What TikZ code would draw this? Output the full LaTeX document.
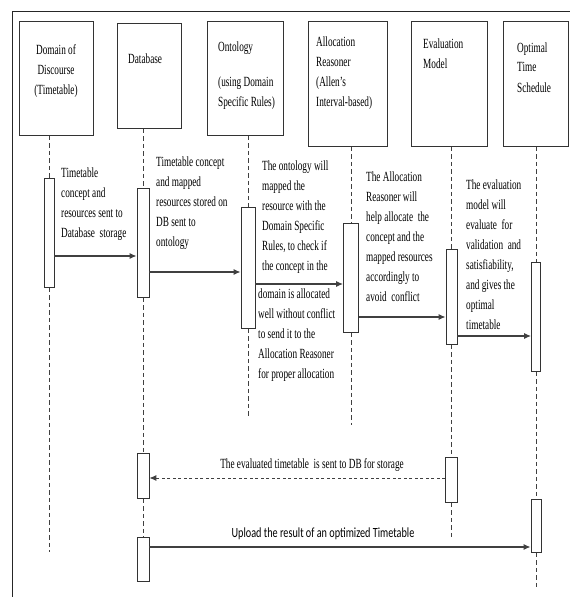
\documentclass[tikz,border=0pt]{standalone}
\usepackage{fontspec}
\setmainfont{Liberation Serif}[FakeStretch=0.66]
\newfontfamily\calfont{Carlito}[FakeStretch=0.73]
\usetikzlibrary{arrows.meta}

\begin{document}
\begin{tikzpicture}[
    x=1pt,
    y=-1pt,
    font=\fontsize{14}{20}\selectfont,
    actor/.style={draw=black!80, line width=0.8pt, rectangle, inner sep=0, anchor=north west},
    activ/.style={draw=black!80, line width=0.8pt, fill=white, rectangle, inner sep=0, anchor=north},
    txt/.style={align=left, anchor=base west, inner sep=0},
    life/.style={draw=black!75, line width=0.7pt, dash pattern=on 4.5pt off 3pt},
    msg/.style={draw=black!75, line width=1.2pt, -{Latex[length=7pt,width=6pt]}}]
   \useasboundingbox (0,0) rectangle (570,597);
   \draw[black!85, line width=0.9pt] (12,597) -- (12,11) -- (570,11);

   % lifeline heads
   \path
     node(dom)   at ( 19,21) [actor, minimum width=74pt, minimum height=114pt] {}
     node(db)    at (117,23) [actor, minimum width=64pt, minimum height=105pt] {}
     node(ont)   at (207,21) [actor, minimum width=76pt, minimum height=114pt] {}
     node(alloc) at (308,21) [actor, minimum width=79pt, minimum height=125pt] {}
     node(eval)  at (411,21) [actor, minimum width=76pt, minimum height=125pt] {}
     node(opt)   at (503,21) [actor, minimum width=65pt, minimum height=125pt] {};

   % (a text node sits on the baseline of its last line)
   \node[txt, align=center, anchor=base] (domtxt) at (56,94) {Domain of\\Discourse\\(Timetable)};
   \node[txt] (dbtxt) at (128,63) {Database};
   \node[txt] (onttxt) at (218,106) {Ontology\\[15pt](using Domain\\Specific Rules)};
   \node[txt] (alloctxt) at (316,106) {Allocation\\Reasoner\\(Allen's\\Interval-based)};
   \node[txt] (evaltxt) at (423,68) {Evaluation\\Model};
   \node[txt] (opttxt) at (517,92) {Optimal\\Time\\Schedule};

   % activation bars
   \path
     node(dom1) at (49,178)    [activ, minimum width=10pt, minimum height=109pt] {}
     node(db1)  at (143,188)   [activ, minimum width=12pt, minimum height=109pt] {}
     node(db2)  at (143,453)   [activ, minimum width=12pt, minimum height=45pt] {}
     node(db3)  at (143,537)   [activ, minimum width=12pt, minimum height=44pt] {}
     node(ont1) at (248,207)   [activ, minimum width=14pt, minimum height=121pt] {}
     node(all1) at (351,223)   [activ, minimum width=15pt, minimum height=109pt] {}
     node(ev1)  at (451.5,249) [activ, minimum width=11pt, minimum height=95pt] {}
     node(ev2)  at (451.5,457) [activ, minimum width=12pt, minimum height=45pt] {}
     node(op1)  at (536,262)   [activ, minimum width=9pt, minimum height=109pt] {}
     node(op2)  at (536,499)   [activ, minimum width=10pt, minimum height=53pt] {};

   \coordinate (domend) at (49,552);
   \coordinate (ontend) at (248,418);
   \coordinate (allend) at (351,425);
   \coordinate (evend)  at (451.5,537);
   \coordinate (opend)  at (536,588);

   \begin{scope}[life]
     \draw (dom1.north |- dom.south) -- (dom1.north);
     \draw (dom1.south) -- (domend);
     \draw (db1.north |- db.south) -- (db1.north);
     \draw (db1.south) -- (db2.north);
     \draw (db2.south) -- (db3.north);
     \draw (ont1.north |- ont.south) -- (ont1.north);
     \draw (ont1.south) -- (ontend);
     \draw (all1.north |- alloc.south) -- (all1.north);
     \draw (all1.south) -- (allend);
     \draw (ev1.north |- eval.south) -- (ev1.north);
     \draw (ev1.south) -- (ev2.north);
     \draw (ev2.south) -- (evend);
     \draw (op1.north |- opt.south) -- (op1.north);
     \draw (op1.south) -- (op2.north);
     \draw (op2.south) -- (opend);
   \end{scope}

   % messages
   \coordinate (m1) at (0,256);
   \coordinate (m2) at (0,272);
   \coordinate (m3) at (0,284);
   \coordinate (m4) at (0,317);
   \coordinate (m5) at (0,336);
   \coordinate (m6) at (0,478);
   \coordinate (m7) at (0,547);

   \draw[msg] (dom1.east |- m1) -- (db1.west |- m1);
   \draw[msg] (db1.east |- m2) -- (ont1.west |- m2);
   \draw[msg] (ont1.east |- m3) -- (all1.west |- m3);
   \draw[msg] (all1.east |- m4) -- (ev1.west |- m4);
   \draw[msg] (ev1.east |- m5) -- (op1.west |- m5);
   \draw[msg, line width=0.9pt, dash pattern=on 3pt off 2.5pt] (ev2.west |- m6) -- (db2.east |- m6);
   \draw[msg] (db3.east |- m7) -- (op2.west |- m7);

   \node[txt] (t1) at (61,237) {Timetable\\concept and\\resources sent to\\Database~ storage};
   \node[txt] (t2) at (156,246) {Timetable concept\\and mapped\\resources stored on\\DB sent to\\ontology};
   \node[txt] (t3a) at (262,270) {The ontology will\\mapped the\\resource with the\\Domain Specific\\Rules, to check if\\the concept in the};
   \node[txt] (t3b) at (258,378) {domain is allocated\\well without conflict\\to send it to the\\Allocation Reasoner\\for proper allocation};
   \node[txt] (t4) at (366,301) {The Allocation\\Reasoner will\\help allocate~ the\\concept and the\\mapped resources\\accordingly to\\avoid~ conflict};
   \node[txt] (t5) at (466,329) {The evaluation\\model will\\evaluate~ for\\validation~ and\\satisfiability,\\and gives the\\optimal\\timetable};
   \node[txt, anchor=base] (t6) at (312,468) {The evaluated timetable~ is sent to DB for storage};
   \node[txt, anchor=base, font=\calfont\fontsize{14}{20}\selectfont] (t7) at (323,537) {Upload the result of an optimized Timetable};
\end{tikzpicture}
\end{document}
